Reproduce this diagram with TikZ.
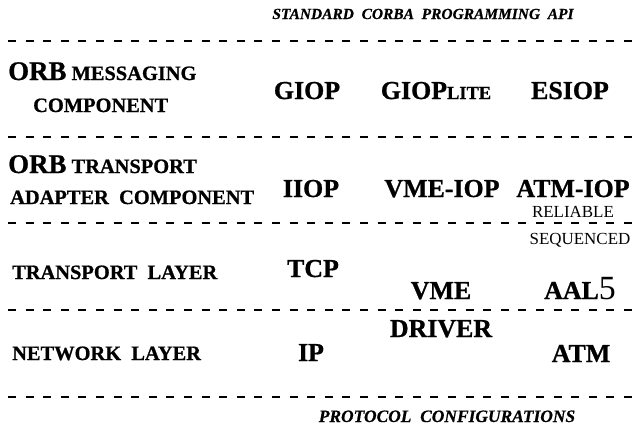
\documentclass[tikz,border=0pt]{standalone}
\usepackage{fontspec}
\setmainfont{Liberation Serif}[BoldFeatures={FakeBold=0.8},BoldItalicFeatures={FakeBold=0.6}]
\newcommand\szbig{\fontsize{27}{29}\selectfont}
\newcommand\szsc{\fontsize{20.5}{22}\selectfont}
\newcommand\szlite{\fontsize{18.5}{20}\selectfont}
\begin{document}
\begin{tikzpicture}[x=1bp,y=-1bp,
  lbl/.style={inner sep=0pt, anchor=base west, font=\bfseries\szsc},
  proto/.style={inner sep=0pt, anchor=base, font=\bfseries\fontsize{26}{28}\selectfont},
  note/.style={inner sep=0pt, anchor=base, font=\fontsize{17}{18}\selectfont},
  title/.style={inner sep=0pt, anchor=base, font=\bfseries\itshape\fontsize{15.5}{17}\selectfont},
  sep/.style={line width=1.8bp, dash pattern=on 8bp off 9.6bp}]
\useasboundingbox (0,0) rectangle (642,429);
% separators
\foreach \yy in {41,137,223,310,397}{\draw[sep] (8,\yy) -- (637,\yy);}
% titles
\node[title] (api) at (423,19) {STANDARD\ \ CORBA\ \ PROGRAMMING\ \ API};
\node[title, font=\bfseries\itshape\fontsize{17.5}{19}\selectfont] (cfg) at (447,422) {PROTOCOL\ \ CONFIGURATIONS};
% left labels
\node[lbl] (msg1) at (8,80) {{\szbig ORB} MESSAGING};
\node[lbl] (msg2) at (33,112) {COMPONENT};
\node[lbl] (tra1) at (8,173) {{\szbig ORB} TRANSPORT};
\node[lbl] (tra2) at (10,204) {ADAPTER\ \ COMPONENT};
\node[lbl] (tl) at (12,279) {TRANSPORT\ \ LAYER};
\node[lbl] (nl) at (12,360) {NETWORK\ \ LAYER};
% messaging
\node[proto] (giop) at (307,99) {GIOP};
\node[proto] (giopl) at (436,99) {GIOP{\szlite LITE}};
\node[proto] (esiop) at (570,99) {ESIOP};
% transport adapters
\node[proto] (iiop) at (311,197) {IIOP};
\node[proto] (vmeiop) at (442,197) {VME-IOP};
\node[proto] (atmiop) at (573,197) {ATM-IOP};
\node[note] (rel) at (573,217) {RELIABLE};
\node[note] (seq) at (580,244) {SEQUENCED};
% transport
\node[proto] (tcp) at (313,277) {TCP};
\node[proto] (vme) at (441,299) {VME};
\node[proto] (aal) at (580,299) {AAL{\mdseries\fontsize{34}{36}\selectfont 5}};
% network
\node[proto] (drv) at (441,337) {DRIVER};
\node[proto] (ip) at (311,361) {IP};
\node[proto] (atm) at (581,362) {ATM};
\end{tikzpicture}
\end{document}
